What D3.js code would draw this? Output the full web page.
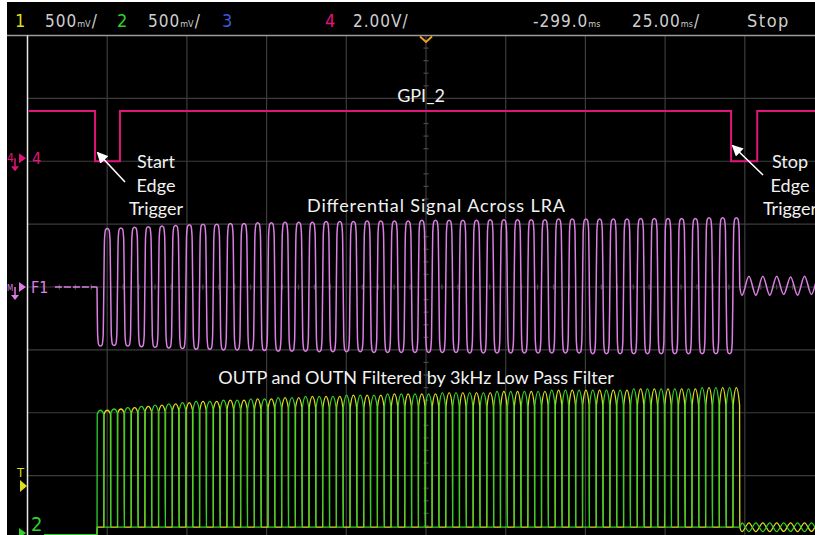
<!DOCTYPE html>
<html>
<head>
<meta charset="utf-8">
<script src="https://cdn.jsdelivr.net/npm/d3@7"></script>
<style>
html, body { margin: 0; padding: 0; background: #fff; }
svg { display: block; }
</style>
</head>
<body>
<svg id="scope" width="815" height="535"></svg>
<script>
// ---- timebase (ms measured from the left edge of the screen) ----
const timePerDiv = 25;
const timeDivs = 10;

// ---- channel 4 : GPI_2, 2.00 V/div ----
const gpiTimes = [0, 21.2, 29.0, 220.7, 228.9, 250];
const gpiVolts = [1.6, 0, 1.6, 0, 1.6, 1.6];

// ---- F1 : differential signal across the LRA ----
const f1IdleStart = 8.6;
const driveStart = 21.8;
const drivePeriod = 4.29;
const f1Tops = [
  0.93, 0.94, 0.95, 0.96, 0.97, 0.98, 0.99, 1.00, 1.00, 1.01,
  1.01, 1.02, 1.02, 1.03, 1.03, 1.03, 1.04, 1.04, 1.04, 1.05,
  1.05, 1.05, 1.05, 1.06, 1.06, 1.06, 1.06, 1.06, 1.07, 1.07,
  1.07, 1.07, 1.07, 1.08, 1.08, 1.08, 1.08, 1.08, 1.08, 1.09,
  1.09, 1.09, 1.09, 1.09, 1.10, 1.10, 1.10
];
const f1Bottoms = [
  -0.94, -0.93, -0.94, -0.95, -0.96, -0.97, -0.98, -0.99, -0.99, -1.00,
  -1.00, -1.01, -1.01, -1.02, -1.02, -1.02, -1.03, -1.03, -1.03, -1.03,
  -1.04, -1.04, -1.04, -1.04, -1.04, -1.04, -1.04, -1.05, -1.05, -1.05,
  -1.05, -1.05, -1.05, -1.05, -1.05, -1.05, -1.06, -1.06, -1.06, -1.06,
  -1.06, -1.06, -1.06, -1.06, -1.06, -1.06, -1.06
];
// back-EMF ringing after the stop edge
const ringStart = 223.5;
const ringPeriod = 4.36;
const f1RingCenter = 0.02;
const f1RingAmp = [0.15, 0.15, 0.15, 0.14, 0.15, 0.14, 0.14];

// ---- channel 1 (OUTP) / channel 2 (OUTN), 500 mV/div ----
const outIdleStart = 5.2;
const outLow = 0.06;
const outBase = [
  0.96, 0.97, 0.97, 0.98, 0.98, 0.99, 0.99, 0.99, 1.00, 1.00,
  1.00, 1.00, 1.01, 1.01, 1.01, 1.01, 1.01, 1.01, 1.01, 1.01,
  1.02, 1.02, 1.02, 1.02, 1.02, 1.02, 1.02, 1.02, 1.02, 1.02,
  1.02, 1.02, 1.03, 1.03, 1.03, 1.03, 1.03, 1.03, 1.03, 1.03,
  1.03, 1.03, 1.03, 1.03, 1.03, 1.03, 1.03
];
const outPeak = [
  0.99, 1.00, 1.01, 1.02, 1.03, 1.04, 1.05, 1.06, 1.06, 1.07,
  1.07, 1.08, 1.08, 1.09, 1.09, 1.10, 1.10, 1.10, 1.11, 1.11,
  1.11, 1.12, 1.12, 1.12, 1.12, 1.13, 1.13, 1.13, 1.13, 1.14,
  1.14, 1.14, 1.14, 1.15, 1.15, 1.15, 1.15, 1.15, 1.15, 1.16,
  1.16, 1.16, 1.16, 1.16, 1.17, 1.17, 1.17
];
const outRingAmp = [0.035, 0.035, 0.035, 0.034, 0.035, 0.034, 0.034];

// ---- header texts ----
const chanNumbers = ["1", "2", "3", "4"];
const chanScales = [["500", "mV", "/"], ["500", "mV", "/"], null, ["2.00V/", "", ""]];
const delayText = ["-299.0", "ms", ""];
const timebaseText = ["25.00", "ms", "/"];
const runState = "Stop";

// ---- annotations ----
const startNote = ["Start", "Edge", "Trigger"];
const stopNote = ["Stop", "Edge", "Trigger"];
const gpiTitle = "GPI_2";
const f1Title = "Differential Signal Across LRA";
const outTitle = "OUTP and OUTN Filtered by 3kHz Low Pass Filter";

// ================= drawing =================
const svg = d3.select("#scope");
const scr = { left: 27.5, right: 824.5, top: 35.5, bottom: 538.5 };
const divPx = (scr.bottom - scr.top) / 8;

const x = d3.scaleLinear()
  .domain([0, timeDivs * timePerDiv])
  .range([scr.left, scr.right]);

function chScale(voltsPerDiv, centerVolts) {
  return d3.scaleLinear()
    .domain([centerVolts - 4 * voltsPerDiv, centerVolts + 4 * voltsPerDiv])
    .range([scr.bottom, scr.top]);
}
const y4 = chScale(2.0, -4.0);
const yF1 = chScale(1.0, 0.0);
const y12 = chScale(0.5, 1.97);

const colors = {
  ch1: "#dede1c", ch2: "#30d02a", ch3: "#3a5ad8", ch4: "#e0157c",
  f1: "#dc7ee4", grid: "#3c3c3c", text: "#cfcfcf", orange: "#f0a020"
};

// background
svg.append("rect").attr("width", 815).attr("height", 535).attr("fill", "#fff");
svg.append("rect").attr("x", 7).attr("y", 2).attr("width", 808).attr("height", 533).attr("fill", "#000");

// grid
const grid = svg.append("g");
d3.range(1, timeDivs + 1).forEach(i => {
  grid.append("line")
    .attr("x1", x(i * timePerDiv)).attr("x2", x(i * timePerDiv))
    .attr("y1", scr.top).attr("y2", 535)
    .attr("stroke", colors.grid).attr("stroke-width", 1.2);
});
d3.range(1, 8).forEach(j => {
  grid.append("line")
    .attr("x1", scr.left).attr("x2", 815)
    .attr("y1", scr.top + j * divPx).attr("y2", scr.top + j * divPx)
    .attr("stroke", colors.grid).attr("stroke-width", 1.2);
});
// minor ticks on the centre axes
const cx = x(timeDivs * timePerDiv / 2), cy = scr.top + 4 * divPx;
d3.range(0, 40).forEach(k => {
  const yy = scr.top + k * divPx / 5;
  if (k % 5 !== 0) grid.append("line")
    .attr("x1", cx - 2.5).attr("x2", cx + 2.5).attr("y1", yy).attr("y2", yy)
    .attr("stroke", "#4a4a4a").attr("stroke-width", 1.2);
});
d3.range(0, 50).forEach(k => {
  const xx = scr.left + k * (x(timePerDiv) - x(0)) / 5;
  if (k % 5 !== 0) grid.append("line")
    .attr("x1", xx).attr("x2", xx).attr("y1", cy - 2.5).attr("y2", cy + 2.5)
    .attr("stroke", "#4a4a4a").attr("stroke-width", 1.2);
});

// header separator and left border
svg.append("line").attr("x1", 7).attr("x2", 815).attr("y1", scr.top).attr("y2", scr.top)
  .attr("stroke", "#9a9a9a").attr("stroke-width", 1.5);
svg.append("line").attr("x1", scr.left).attr("x2", scr.left).attr("y1", scr.top).attr("y2", 535)
  .attr("stroke", "#e8e8e8").attr("stroke-width", 1.5);

// trigger position marker
svg.append("path")
  .attr("d", `M${cx - 6},${scr.top + 1} L${cx},${scr.top + 6.5} L${cx + 6},${scr.top + 1}`)
  .attr("fill", "none").attr("stroke", colors.orange).attr("stroke-width", 2);

// clip for traces
svg.append("clipPath").attr("id", "screen")
  .append("rect").attr("x", scr.left + 1).attr("y", scr.top + 1)
  .attr("width", scr.right - scr.left).attr("height", 535 - scr.top);
const traces = svg.append("g").attr("clip-path", "url(#screen)");

// ---- build trace points ----
// F1
const f1Pts = [[driveStart, 0]];
f1Tops.forEach((top, k) => {
  const t0 = driveStart + k * drivePeriod, P = drivePeriod, b = f1Bottoms[k];
  f1Pts.push(
    [t0 + 0.05 * P, 0.82 * b], [t0 + 0.13 * P, 0.98 * b], [t0 + 0.25 * P, b],
    [t0 + 0.37 * P, 0.98 * b], [t0 + 0.45 * P, 0.82 * b], [t0 + 0.5 * P, 0],
    [t0 + 0.55 * P, 0.82 * top], [t0 + 0.63 * P, 0.98 * top], [t0 + 0.75 * P, top],
    [t0 + 0.87 * P, 0.98 * top], [t0 + 0.95 * P, 0.82 * top], [t0 + P, 0]
  );
});
f1RingAmp.forEach((a, j) => {
  const tj = ringStart + j * ringPeriod;
  f1Pts.push([tj + 0.14 * ringPeriod, f1RingCenter - a], [tj + 0.64 * ringPeriod, f1RingCenter + a]);
});

// OUTP (yellow, high in the second half of each cycle) and OUTN (green, first half)
function highPhase(pts, tA, tB, base, peak) {
  const d = tB - tA;
  pts.push([tA, outLow], [tA + 0.03 * d, base], [tA + 0.5 * d, peak],
           [tB - 0.03 * d, base], [tB, outLow]);
}
const ch1Pts = [[outIdleStart, 0], [driveStart, 0], [driveStart + 0.02, outLow]];
const ch2Pts = [[outIdleStart, 0], [driveStart, 0]];
outBase.forEach((base, k) => {
  const t0 = driveStart + k * drivePeriod, P = drivePeriod;
  highPhase(ch2Pts, t0 + (k === 0 ? 0.01 : 0), t0 + 0.5 * P, base, outPeak[k]);
  ch2Pts.push([t0 + P, outLow]);
  ch1Pts.push([t0 + 0.5 * P, outLow]);
  highPhase(ch1Pts, t0 + 0.5 * P, t0 + P, base, outPeak[k]);
});
outRingAmp.forEach((a, j) => {
  const tj = ringStart + j * ringPeriod;
  ch1Pts.push([tj + 0.14 * ringPeriod, outLow - a], [tj + 0.64 * ringPeriod, outLow + a]);
  ch2Pts.push([tj + 0.14 * ringPeriod, outLow + a], [tj + 0.64 * ringPeriod, outLow - a]);
});

const lineFor = yScale => d3.line()
  .x(d => x(d[0])).y(d => yScale(d[1]))
  .curve(d3.curveMonotoneX);

traces.append("path").datum(ch1Pts)
  .attr("d", lineFor(y12)).attr("fill", "none")
  .attr("stroke", colors.ch1).attr("stroke-width", 1.3).attr("stroke-linejoin", "round");
traces.append("path").datum(ch2Pts)
  .attr("d", lineFor(y12)).attr("fill", "none")
  .attr("stroke", colors.ch2).attr("stroke-width", 1.3).attr("stroke-linejoin", "round");

traces.append("line")
  .attr("x1", x(f1IdleStart)).attr("x2", x(driveStart))
  .attr("y1", yF1(0)).attr("y2", yF1(0))
  .attr("stroke", colors.f1).attr("stroke-width", 1.5).attr("stroke-dasharray", "7,2");
traces.append("path").datum(f1Pts)
  .attr("d", lineFor(yF1)).attr("fill", "none")
  .attr("stroke", colors.f1).attr("stroke-width", 1.5).attr("stroke-linejoin", "round");

traces.append("path").datum(gpiTimes.map((t, i) => [t, gpiVolts[i]]))
  .attr("d", d3.line().x(d => x(d[0])).y(d => y4(d[1])).curve(d3.curveStepAfter))
  .attr("fill", "none").attr("stroke", colors.ch4).attr("stroke-width", 2);

// ---- header ----
const hdr = svg.append("g")
  .style("font-family", "'Liberation Sans Narrow', 'DejaVu Sans Condensed', 'Roboto', sans-serif");
const hdrBase = 27;
const hdrSize = 17;
const chanColors = [colors.ch1, colors.ch2, colors.ch3, colors.ch4];
const chanX = [15, 117, 222, 325];
const scaleX = [45, 148, 0, 353];

// one text per header field: value, small unit and an optional slash
function hdrValue(xx, parts) {
  const t = hdr.append("text").attr("x", xx).attr("y", hdrBase).attr("fill", colors.text);
  t.append("tspan").attr("font-size", hdrSize).attr("letter-spacing", 1).text(parts[0]);
  if (parts[1]) t.append("tspan").attr("font-size", 9).text(parts[1]);
  if (parts[2]) t.append("tspan").attr("font-size", hdrSize).attr("dx", 1).text(parts[2]);
}
chanNumbers.forEach((c, i) => {
  hdr.append("text").attr("x", chanX[i]).attr("y", hdrBase).attr("font-size", hdrSize + 1)
    .attr("fill", chanColors[i]).text(c);
  if (chanScales[i]) hdrValue(scaleX[i], chanScales[i]);
});
hdrValue(533, delayText);
hdrValue(632, timebaseText);
hdr.append("text").attr("x", 747).attr("y", hdrBase).attr("font-size", hdrSize + 1)
  .attr("fill", colors.text).attr("letter-spacing", 1.5).text(runState);

// ---- channel markers on the left ----
const mk = svg.append("g").style("font-family", "'Liberation Sans Narrow', 'DejaVu Sans Condensed', sans-serif");
function groundMarker(g, yy, color, tag) {
  g.append("text").attr("x", 7).attr("y", yy + 4).attr("font-size", tag === "M" ? 8 : 12)
    .attr("fill", color).text(tag);
  g.append("path").attr("d", `M19,${yy - 5} L26,${yy} L19,${yy + 5} Z`).attr("fill", color);
  g.append("line").attr("x1", 15).attr("x2", 15).attr("y1", yy).attr("y2", yy + 8)
    .attr("stroke", color).attr("stroke-width", 1.5);
  g.append("path").attr("d", `M11,${yy + 8} L19,${yy + 8} L15,${yy + 13} Z`).attr("fill", color);
}
groundMarker(mk, y4(0) - 3, colors.ch4, "4");
mk.append("text").attr("x", 32).attr("y", y4(0) + 3).attr("font-size", 16)
  .attr("fill", colors.ch4).text("4");
groundMarker(mk, yF1(0), colors.f1, "M");
mk.append("text").attr("x", 31).attr("y", yF1(0) + 6).attr("font-size", 16)
  .attr("fill", colors.f1).text("F1");
// channel 2 marker (sits at the bottom edge)
mk.append("path").attr("d", "M19,528 L26,533 L19,538 Z").attr("fill", colors.ch2);
mk.append("text").attr("x", 31).attr("y", 531).attr("font-size", 20).attr("fill", colors.ch2).text("2");
// trigger level
mk.append("text").attr("x", 17).attr("y", 477).attr("font-size", 13).attr("fill", colors.ch1).text("T");
mk.append("path").attr("d", "M20,480 L27,486 L20,492 Z").attr("fill", colors.ch1);

// ---- annotations ----
const ann = svg.append("g")
  .style("font-family", "Lato, 'Open Sans', sans-serif")
  .attr("font-size", 18).attr("fill", "#f2f2f2").attr("text-anchor", "middle");
ann.append("text").attr("x", 421).attr("y", 102).text(gpiTitle);
ann.append("text").attr("x", 436).attr("y", 212).attr("textLength", 258).text(f1Title);
ann.append("text").attr("x", 416).attr("y", 384).text(outTitle);
startNote.forEach((s, i) => ann.append("text").attr("x", 156).attr("y", 168 + i * 23.5).text(s));
stopNote.forEach((s, i) => ann.append("text").attr("x", 790).attr("y", 168 + i * 23.5).text(s));

svg.append("defs").append("marker").attr("id", "head")
  .attr("viewBox", "0 0 10 10").attr("refX", 9).attr("refY", 5)
  .attr("markerWidth", 7).attr("markerHeight", 7).attr("orient", "auto")
  .append("path").attr("d", "M0,0 L10,5 L0,10 Z").attr("fill", "#fff");
[[125, 182, 97.5, 152.5], [763, 175, 732.5, 145.5]].forEach(a => {
  svg.append("line").attr("x1", a[0]).attr("y1", a[1]).attr("x2", a[2]).attr("y2", a[3])
    .attr("stroke", "#fff").attr("stroke-width", 1.6).attr("marker-end", "url(#head)");
});
</script>
</body>
</html>
